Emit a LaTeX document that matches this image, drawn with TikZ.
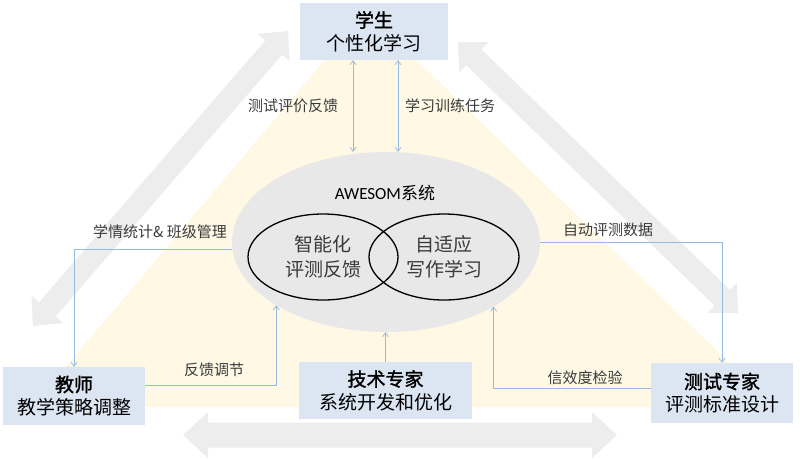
\documentclass[tikz,border=0pt]{standalone}
\usepackage{fontspec}
\setmainfont{Noto Sans CJK SC}
\newfontfamily\latinf{Carlito}
\newfontfamily\cjkbold[FakeBold=1.6]{Noto Sans CJK SC}
\usetikzlibrary{arrows.meta,shapes.geometric,calc}
\definecolor{boxblue}{HTML}{DCE6F2}
\definecolor{cream}{HTML}{FEF8E5}
\definecolor{biggray}{HTML}{EDEDED}
\definecolor{ellgray}{HTML}{E8E8E8}
\definecolor{lineblue}{HTML}{95B9E0}
\definecolor{txtgray}{HTML}{3A3A3A}
% #1 start, #2 end, #3 head length, #4 head half width, #5 shaft half width
\newcommand\bigdbl[5]{%
  \coordinate (ba) at ($(#1)!#3!(#2)$);
  \coordinate (bb) at ($(#2)!#3!(#1)$);
  \fill[biggray] (#1) -- ($(ba)!#4!90:(#2)$) -- ($(ba)!#5!90:(#2)$)
    -- ($(bb)!#5!-90:(#1)$) -- ($(bb)!#4!-90:(#1)$) -- (#2)
    -- ($(bb)!#4!90:(#1)$) -- ($(bb)!#5!90:(#1)$)
    -- ($(ba)!#5!-90:(#2)$) -- ($(ba)!#4!-90:(#2)$) -- cycle;
}
\tikzset{
  box/.style={fill=boxblue, inner sep=0pt, align=center, text=black,
    font=\fontsize{19}{23}\selectfont},
  lbl/.style={inner sep=0pt, text=txtgray, font=\fontsize{15}{17}\selectfont},
  conn/.style={draw=lineblue, line width=0.7pt,
    -{Straight Barb[length=4pt,width=6pt]}},
  dconn/.style={draw=lineblue, line width=0.7pt,
    {Straight Barb[length=4pt,width=6pt]}-{Straight Barb[length=4pt,width=6pt]}},
  venn/.style={ellipse, draw=black, line width=1.3pt, inner sep=0pt,
    minimum width=150pt, minimum height=86pt, align=center, text=txtgray,
    font=\fontsize{19}{25}\selectfont}
}
\begin{document}
\begin{tikzpicture}[x=1pt,y=-1pt]
\useasboundingbox (0,0) rectangle (800,459);
% background triangle
\fill[cream] (366,11) -- (32,407) -- (775,407) -- cycle;
% big gray double arrows
\coordinate (la1) at (288,31);
\coordinate (la2) at (33,326);
\coordinate (ra1) at (458,42);
\coordinate (ra2) at (738,313);
\coordinate (ba1) at (183,435);
\coordinate (ba2) at (617,435);
\bigdbl{la1}{la2}{22pt}{21pt}{11pt}
\bigdbl{ra1}{ra2}{22pt}{21pt}{11pt}
\bigdbl{ba1}{ba2}{25pt}{23pt}{12.5pt}
% system ellipse
\node[ellipse, fill=ellgray, inner sep=0pt, minimum width=308pt,
  minimum height=180pt] (sys) at (386,242) {};
\node[text=black, font=\fontsize{17}{19}\selectfont, inner sep=0pt]
  (title) at (385,193) {{\latinf AWESOM}系统};
\node[venn] (vl) at (323,257) {智能化\\评测反馈};
\node[venn] (vr) at (444,257) {自适应\\写作学习};
% boxes
\node[box, minimum width=148pt, minimum height=57pt] (stu) at (374,31.5)
  {{\cjkbold 学生}\\个性化学习};
\node[box, minimum width=142pt, minimum height=58pt] (tea) at (74,396)
  {{\cjkbold 教师}\\教学策略调整};
\node[box, minimum width=173pt, minimum height=57pt] (tech) at (385.5,390.5)
  {{\cjkbold 技术专家}\\系统开发和优化};
\node[box, minimum width=142pt, minimum height=60pt] (test) at (722,393)
  {{\cjkbold 测试专家}\\评测标准设计};
% connectors
\coordinate (s1) at ([xshift=-21pt]stu.south);
\coordinate (s2) at ([xshift=24pt]stu.south);
\draw[dconn] (s1) -- (s1 |- sys.north);
\draw[dconn] (s2) -- (s2 |- sys.north);
\draw[conn] ([yshift=-7pt]sys.west) -| (tea.north);
\draw[conn] ([yshift=11pt]tea.east) -| (sys.210.4);
\draw[conn] (sys.east) -| (test.north);
\draw[conn] ([yshift=5pt]test.west) -| (sys.329.6);
\draw[conn] (tech.north) -- (tech.north |- sys.south);
% labels
\node[lbl] (l1) at (293,106) {测试评价反馈};
\node[lbl] (l2) at (450,106) {学习训练任务};
\node[lbl] (l3) at (160,232) {学情统计\& 班级管理};
\node[lbl] (l4) at (214,370) {反馈调节};
\node[lbl] (l5) at (608,230) {自动评测数据};
\node[lbl] (l6) at (585,378) {信效度检验};
\end{tikzpicture}
\end{document}
